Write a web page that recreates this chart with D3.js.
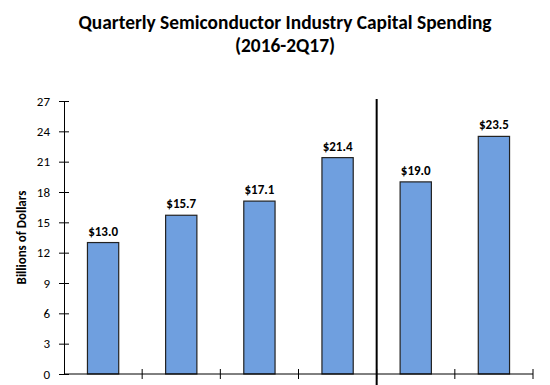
<!DOCTYPE html>
<html>
<head>
<meta charset="utf-8">
<script src="https://cdn.jsdelivr.net/npm/d3@7"></script>
<style>
  body { margin: 0; background: #fff; }
  svg text { font-family: Carlito, Lato, "Open Sans", sans-serif; fill: #000; }
</style>
</head>
<body>
<svg id="chart" width="550" height="385"></svg>
<script>
// quarters 1Q16..2Q17 (no category labels in the picture)
var quarters = ["1Q16", "2Q16", "3Q16", "4Q16", "1Q17", "2Q17"];
var spending = [13.0, 15.7, 17.1, 21.4, 19.0, 23.5];
var yTicks = [0, 3, 6, 9, 12, 15, 18, 21, 24, 27];

var svg = d3.select("#chart"),
    margin = {top: 101, right: 17, bottom: 11, left: 64},
    width = +svg.attr("width") - margin.left - margin.right,
    height = +svg.attr("height") - margin.top - margin.bottom;

var x = d3.scaleBand().domain(quarters).range([0, width]).paddingInner(0.6).paddingOuter(0.3),
    y = d3.scaleLinear().domain([0, 27]).range([height, 0]);

var g = svg.append("g")
    .attr("transform", "translate(" + margin.left + "," + margin.top + ")");

// title
svg.append("text")
    .attr("x", 285).attr("y", 29)
    .attr("text-anchor", "middle")
    .style("font-size", "19.4px").style("font-weight", "bold")
    .text("Quarterly Semiconductor Industry Capital Spending");
svg.append("text")
    .attr("x", 285).attr("y", 52)
    .attr("text-anchor", "middle")
    .style("font-size", "19.4px").style("font-weight", "bold")
    .text("(2016-2Q17)");

// bars
g.selectAll(".bar")
    .data(spending)
    .enter().append("rect")
    .attr("class", "bar")
    .attr("x", function(d, i) { return x(quarters[i]); })
    .attr("y", function(d) { return y(d); })
    .attr("width", x.bandwidth())
    .attr("height", function(d) { return height - y(d); })
    .attr("fill", "#6f9fdf")
    .attr("stroke", "#222")
    .attr("stroke-width", 1.2);

g.selectAll(".val")
    .data(spending)
    .enter().append("text")
    .attr("class", "val")
    .attr("x", function(d, i) { return x(quarters[i]) + x.bandwidth() / 2; })
    .attr("y", function(d) { return y(d) - 7; })
    .attr("text-anchor", "middle")
    .style("font-size", "13px").style("font-weight", "bold")
    .text(function(d) { return "$" + d.toFixed(1); });

// y axis
var yAxis = g.append("g")
    .call(d3.axisLeft(y).tickValues(yTicks).tickSize(0).tickPadding(14));
yAxis.select(".domain").attr("stroke", "#000");
yAxis.selectAll("text").style("font-size", "13px").style("font-family", "Carlito, Lato, sans-serif");
yAxis.selectAll(".tick").append("line")
    .attr("x1", -5).attr("x2", 5).attr("stroke", "#000");

// x axis: ticks at band boundaries
var bounds = d3.range(quarters.length + 1).map(function(i) { return i * width / quarters.length; });
g.append("line")
    .attr("x1", 0).attr("x2", width)
    .attr("y1", height).attr("y2", height)
    .attr("stroke", "#000");
g.selectAll(".xtick")
    .data(bounds.slice(1))
    .enter().append("line")
    .attr("class", "xtick")
    .attr("x1", function(d) { return d; }).attr("x2", function(d) { return d; })
    .attr("y1", height - 5).attr("y2", height + 5)
    .attr("stroke", "#000");

// divider between 2016 and 2017
var divX = bounds[4];
g.append("line")
    .attr("x1", divX).attr("x2", divX)
    .attr("y1", y(27.2)).attr("y2", height + margin.bottom)
    .attr("stroke", "#000").attr("stroke-width", 2);

// y label
svg.append("text")
    .attr("transform", "translate(26," + (margin.top + height / 2) + ") rotate(-90)")
    .attr("text-anchor", "middle")
    .style("font-size", "13px").style("font-weight", "bold")
    .text("Billions of Dollars");
</script>
</body>
</html>
